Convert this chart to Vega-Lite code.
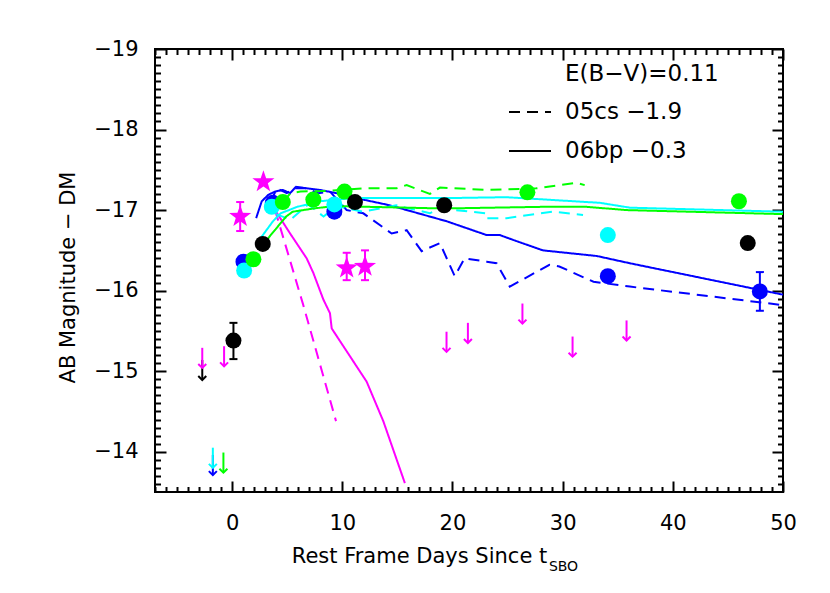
{
  "$schema": "https://vega.github.io/schema/vega-lite/v6.json",
  "width": 628,
  "height": 443,
  "autosize": {"type": "none"},
  "padding": {"left": 155, "top": 49, "right": 47, "bottom": 101},
  "background": "white",
  "config": {
    "view": {"stroke": "black", "strokeWidth": 2},
    "font": "DejaVu Sans",
    "axis": {
      "domain": false, "grid": false, "ticks": true, "tickColor": "black", "tickWidth": 2,
      "labelColor": "black", "labelFont": "DejaVu Sans", "labelFontSize": 21,
      "labelFlush": false, "labelOverlap": false,
      "titleFont": "DejaVu Sans", "titleFontSize": 21, "titleFontWeight": "normal", "titleColor": "black"
    },
    "legend": {"labelFont": "DejaVu Sans", "titleFont": "DejaVu Sans", "labelColor": "black", "titleColor": "black", "padding": 0}
  },
  "datasets": {
    "obs": [
      {"band": "g", "day": 1.03, "mag": -16.36},
      {"band": "g", "day": 3.69, "mag": -17.09},
      {"band": "g", "day": 9.28, "mag": -16.98},
      {"band": "g", "day": 34.1, "mag": -16.18},
      {"band": "g", "day": 47.9, "mag": -15.99},
      {"band": "r", "day": 1.09, "mag": -16.25},
      {"band": "r", "day": 3.6, "mag": -17.04},
      {"band": "r", "day": 9.28, "mag": -17.07},
      {"band": "r", "day": 34.1, "mag": -16.69},
      {"band": "i", "day": 1.93, "mag": -16.39},
      {"band": "i", "day": 4.6, "mag": -17.1},
      {"band": "i", "day": 7.37, "mag": -17.13},
      {"band": "i", "day": 10.2, "mag": -17.23},
      {"band": "i", "day": 26.8, "mag": -17.22},
      {"band": "i", "day": 46.0, "mag": -17.11},
      {"band": "z", "day": 0.12, "mag": -15.38},
      {"band": "z", "day": 2.78, "mag": -16.58},
      {"band": "z", "day": 11.15, "mag": -17.1},
      {"band": "z", "day": 19.25, "mag": -17.06},
      {"band": "z", "day": 46.8, "mag": -16.59}
    ],
    "uv": [
      {"band": "NUV", "day": 0.73, "mag": -16.92},
      {"band": "NUV", "day": 2.84, "mag": -17.35},
      {"band": "NUV", "day": 10.4, "mag": -16.28},
      {"band": "NUV", "day": 12.06, "mag": -16.3}
    ],
    "err": [
      {"band": "NUV", "day": 0.73, "lo": -17.1, "hi": -16.74},
      {"band": "NUV", "day": 10.4, "lo": -16.47, "hi": -16.13},
      {"band": "NUV", "day": 12.06, "lo": -16.5, "hi": -16.13},
      {"band": "z", "day": 0.12, "lo": -15.6, "hi": -15.15},
      {"band": "g", "day": 47.9, "lo": -16.23, "hi": -15.75}
    ],
    "lims": [
      {"band": "z", "day": -2.71, "mag": -15.14, "tip": -14.89},
      {"band": "NUV", "day": -2.71, "mag": -15.29, "tip": -15.04},
      {"band": "NUV", "day": -0.73, "mag": -15.31, "tip": -15.06},
      {"band": "g", "day": -1.75, "mag": -13.96, "tip": -13.71},
      {"band": "r", "day": -1.75, "mag": -14.05, "tip": -13.8},
      {"band": "i", "day": -0.79, "mag": -13.99, "tip": -13.74},
      {"band": "NUV", "day": 19.46, "mag": -15.49, "tip": -15.24},
      {"band": "NUV", "day": 21.4, "mag": -15.6, "tip": -15.35},
      {"band": "NUV", "day": 26.35, "mag": -15.84, "tip": -15.59},
      {"band": "NUV", "day": 30.9, "mag": -15.43, "tip": -15.18},
      {"band": "NUV", "day": 35.8, "mag": -15.63, "tip": -15.38}
    ],
    "models": [
      {"band": "NUV", "model": "06bp −0.3", "day": 3.9, "mag": -17.0},
      {"band": "NUV", "model": "06bp −0.3", "day": 5.26, "mag": -16.71},
      {"band": "NUV", "model": "06bp −0.3", "day": 6.77, "mag": -16.4},
      {"band": "NUV", "model": "06bp −0.3", "day": 7.37, "mag": -16.22},
      {"band": "NUV", "model": "06bp −0.3", "day": 8.28, "mag": -15.89},
      {"band": "NUV", "model": "06bp −0.3", "day": 8.88, "mag": -15.72},
      {"band": "NUV", "model": "06bp −0.3", "day": 9.04, "mag": -15.53},
      {"band": "NUV", "model": "06bp −0.3", "day": 12.21, "mag": -14.87},
      {"band": "NUV", "model": "06bp −0.3", "day": 13.72, "mag": -14.38},
      {"band": "NUV", "model": "06bp −0.3", "day": 15.68, "mag": -13.61},
      {"band": "NUV", "model": "05cs −1.9", "day": 3.9, "mag": -17.0},
      {"band": "NUV", "model": "05cs −1.9", "day": 6.46, "mag": -15.82},
      {"band": "NUV", "model": "05cs −1.9", "day": 9.43, "mag": -14.38},
      {"band": "g", "model": "06bp −0.3", "day": 2.18, "mag": -16.9},
      {"band": "g", "model": "06bp −0.3", "day": 2.69, "mag": -17.11},
      {"band": "g", "model": "06bp −0.3", "day": 3.29, "mag": -17.19},
      {"band": "g", "model": "06bp −0.3", "day": 3.9, "mag": -17.23},
      {"band": "g", "model": "06bp −0.3", "day": 4.6, "mag": -17.25},
      {"band": "g", "model": "06bp −0.3", "day": 5.26, "mag": -17.21},
      {"band": "g", "model": "06bp −0.3", "day": 5.8, "mag": -17.29},
      {"band": "g", "model": "06bp −0.3", "day": 6.77, "mag": -17.27},
      {"band": "g", "model": "06bp −0.3", "day": 7.98, "mag": -17.25},
      {"band": "g", "model": "06bp −0.3", "day": 9.49, "mag": -17.21},
      {"band": "g", "model": "06bp −0.3", "day": 11.9, "mag": -17.13},
      {"band": "g", "model": "06bp −0.3", "day": 14.3, "mag": -17.06},
      {"band": "g", "model": "06bp −0.3", "day": 19.5, "mag": -16.86},
      {"band": "g", "model": "06bp −0.3", "day": 23.1, "mag": -16.69},
      {"band": "g", "model": "06bp −0.3", "day": 24.3, "mag": -16.69},
      {"band": "g", "model": "06bp −0.3", "day": 25.5, "mag": -16.63},
      {"band": "g", "model": "06bp −0.3", "day": 28.2, "mag": -16.5},
      {"band": "g", "model": "06bp −0.3", "day": 33.1, "mag": -16.43},
      {"band": "g", "model": "06bp −0.3", "day": 36.1, "mag": -16.34},
      {"band": "g", "model": "06bp −0.3", "day": 50.0, "mag": -15.95},
      {"band": "g", "model": "05cs −1.9", "day": 3.5, "mag": -17.1},
      {"band": "g", "model": "05cs −1.9", "day": 4.05, "mag": -17.27},
      {"band": "g", "model": "05cs −1.9", "day": 4.96, "mag": -17.21},
      {"band": "g", "model": "05cs −1.9", "day": 5.6, "mag": -17.27},
      {"band": "g", "model": "05cs −1.9", "day": 6.77, "mag": -17.27},
      {"band": "g", "model": "05cs −1.9", "day": 7.82, "mag": -17.21},
      {"band": "g", "model": "05cs −1.9", "day": 8.88, "mag": -17.23},
      {"band": "g", "model": "05cs −1.9", "day": 10.4, "mag": -17.0},
      {"band": "g", "model": "05cs −1.9", "day": 11.9, "mag": -16.96},
      {"band": "g", "model": "05cs −1.9", "day": 14.48, "mag": -16.71},
      {"band": "g", "model": "05cs −1.9", "day": 15.84, "mag": -16.75},
      {"band": "g", "model": "05cs −1.9", "day": 17.2, "mag": -16.49},
      {"band": "g", "model": "05cs −1.9", "day": 18.86, "mag": -16.59},
      {"band": "g", "model": "05cs −1.9", "day": 20.2, "mag": -16.18},
      {"band": "g", "model": "05cs −1.9", "day": 21.1, "mag": -16.4},
      {"band": "g", "model": "05cs −1.9", "day": 23.1, "mag": -16.36},
      {"band": "g", "model": "05cs −1.9", "day": 24.0, "mag": -16.34},
      {"band": "g", "model": "05cs −1.9", "day": 25.2, "mag": -16.05},
      {"band": "g", "model": "05cs −1.9", "day": 28.8, "mag": -16.32},
      {"band": "g", "model": "05cs −1.9", "day": 29.7, "mag": -16.3},
      {"band": "g", "model": "05cs −1.9", "day": 32.8, "mag": -16.11},
      {"band": "g", "model": "05cs −1.9", "day": 36.1, "mag": -16.05},
      {"band": "g", "model": "05cs −1.9", "day": 50.0, "mag": -15.82},
      {"band": "r", "model": "06bp −0.3", "day": 2.2, "mag": -16.58},
      {"band": "r", "model": "06bp −0.3", "day": 3.7, "mag": -16.86},
      {"band": "r", "model": "06bp −0.3", "day": 4.4, "mag": -16.96},
      {"band": "r", "model": "06bp −0.3", "day": 5.9, "mag": -17.04},
      {"band": "r", "model": "06bp −0.3", "day": 8.0, "mag": -17.11},
      {"band": "r", "model": "06bp −0.3", "day": 11.0, "mag": -17.15},
      {"band": "r", "model": "06bp −0.3", "day": 20.0, "mag": -17.15},
      {"band": "r", "model": "06bp −0.3", "day": 24.9, "mag": -17.16},
      {"band": "r", "model": "06bp −0.3", "day": 33.4, "mag": -17.09},
      {"band": "r", "model": "06bp −0.3", "day": 36.1, "mag": -17.03},
      {"band": "r", "model": "06bp −0.3", "day": 50.0, "mag": -16.98},
      {"band": "r", "model": "05cs −1.9", "day": 4.0, "mag": -16.95},
      {"band": "r", "model": "05cs −1.9", "day": 5.3, "mag": -16.88},
      {"band": "r", "model": "05cs −1.9", "day": 6.9, "mag": -17.07},
      {"band": "r", "model": "05cs −1.9", "day": 8.3, "mag": -16.92},
      {"band": "r", "model": "05cs −1.9", "day": 9.5, "mag": -17.05},
      {"band": "r", "model": "05cs −1.9", "day": 11.9, "mag": -16.98},
      {"band": "r", "model": "05cs −1.9", "day": 14.9, "mag": -17.06},
      {"band": "r", "model": "05cs −1.9", "day": 17.95, "mag": -16.96},
      {"band": "r", "model": "05cs −1.9", "day": 18.86, "mag": -17.02},
      {"band": "r", "model": "05cs −1.9", "day": 23.09, "mag": -16.96},
      {"band": "r", "model": "05cs −1.9", "day": 23.1, "mag": -16.9},
      {"band": "r", "model": "05cs −1.9", "day": 24.9, "mag": -16.9},
      {"band": "r", "model": "05cs −1.9", "day": 29.1, "mag": -16.98},
      {"band": "r", "model": "05cs −1.9", "day": 31.85, "mag": -16.94},
      {"band": "i", "model": "06bp −0.3", "day": 2.78, "mag": -16.57},
      {"band": "i", "model": "06bp −0.3", "day": 4.9, "mag": -16.92},
      {"band": "i", "model": "06bp −0.3", "day": 5.5, "mag": -16.98},
      {"band": "i", "model": "06bp −0.3", "day": 7.4, "mag": -17.02},
      {"band": "i", "model": "06bp −0.3", "day": 9.2, "mag": -17.05},
      {"band": "i", "model": "06bp −0.3", "day": 19.2, "mag": -17.02},
      {"band": "i", "model": "06bp −0.3", "day": 28.0, "mag": -17.04},
      {"band": "i", "model": "06bp −0.3", "day": 32.2, "mag": -17.04},
      {"band": "i", "model": "06bp −0.3", "day": 35.8, "mag": -17.0},
      {"band": "i", "model": "06bp −0.3", "day": 50.0, "mag": -16.95},
      {"band": "i", "model": "05cs −1.9", "day": 4.6, "mag": -17.1},
      {"band": "i", "model": "05cs −1.9", "day": 5.3, "mag": -17.21},
      {"band": "i", "model": "05cs −1.9", "day": 6.2, "mag": -17.23},
      {"band": "i", "model": "05cs −1.9", "day": 8.9, "mag": -17.24},
      {"band": "i", "model": "05cs −1.9", "day": 11.9, "mag": -17.27},
      {"band": "i", "model": "05cs −1.9", "day": 14.9, "mag": -17.27},
      {"band": "i", "model": "05cs −1.9", "day": 15.84, "mag": -17.31},
      {"band": "i", "model": "05cs −1.9", "day": 17.95, "mag": -17.2},
      {"band": "i", "model": "05cs −1.9", "day": 18.86, "mag": -17.28},
      {"band": "i", "model": "05cs −1.9", "day": 23.09, "mag": -17.25},
      {"band": "i", "model": "05cs −1.9", "day": 27.6, "mag": -17.27},
      {"band": "i", "model": "05cs −1.9", "day": 31.25, "mag": -17.34},
      {"band": "i", "model": "05cs −1.9", "day": 32.0, "mag": -17.31}
    ]
  },
  "layer": [
    {
      "data": {"name": "models"},
      "mark": {"type": "line", "strokeWidth": 2},
      "encoding": {
        "x": {"field": "day", "type": "quantitative",
          "scale": {"domain": [-7, 50], "nice": false, "zero": false},
          "axis": {"orient": "bottom", "values": [0, 10, 20, 30, 40, 50], "format": "d", "offset": -11, "tickSize": 11, "labelPadding": 20,
            "title": "Rest Frame Days Since t", "titleX": 264, "titleY": 81, "titleBaseline": "alphabetic", "titleAlign": "center"}},
        "y": {"field": "mag", "type": "quantitative",
          "scale": {"domain": [-19, -13.5], "nice": false, "zero": false, "reverse": true},
          "axis": {"orient": "left", "values": [-19, -18, -17, -16, -15, -14], "format": "d", "offset": -11, "tickSize": 11, "labelPadding": 17,
            "title": "AB Magnitude − DM", "titleX": -92, "titleY": 228, "titleBaseline": "alphabetic", "titleAlign": "center", "titleAngle": 270}},
        "stroke": {"field": "band", "type": "nominal",
          "scale": {"domain": ["NUV", "g", "r", "i", "z"], "range": ["#ff00ff", "#0000ff", "#00ffff", "#00ff00", "#000000"]},
          "legend": null},
        "strokeDash": {"field": "model", "type": "nominal",
          "scale": {"domain": ["05cs −1.9", "06bp −0.3"], "range": [[11, 7], [1, 0]]},
          "legend": {"orient": "none", "legendX": 353, "legendY": 14, "title": "E(B−V)=0.11", "titleFontSize": 23, "titleFontWeight": "normal",
            "titlePadding": 4, "labelFontSize": 23, "symbolType": "stroke", "symbolSize": 1764, "symbolStrokeWidth": 2,
            "symbolStrokeColor": "black", "rowPadding": 5, "labelOffset": 13,
            "encode": {"title": {"update": {"dx": {"value": 57}}}, "symbols": {"update": {"stroke": {"value": "black"}}}}}}
      }
    },
    {
      "data": {"name": "lims"},
      "mark": {"type": "rule", "strokeWidth": 2},
      "encoding": {
        "x": {"field": "day", "type": "quantitative",
          "scale": {"domain": [-7, 50], "nice": false, "zero": false},
          "axis": {"orient": "bottom", "values": [-7, -6, -5, -4, -3, -2, -1, 1, 2, 3, 4, 5, 6, 7, 8, 9, 11, 12, 13, 14, 15, 16, 17, 18, 19, 21, 22, 23, 24, 25, 26, 27, 28, 29, 31, 32, 33, 34, 35, 36, 37, 38, 39, 41, 42, 43, 44, 45, 46, 47, 48, 49],
            "offset": -5.5, "tickSize": 5.5, "labels": false, "title": "SBO", "titleFontSize": 14, "titleX": 408, "titleY": 83.5, "titleBaseline": "alphabetic", "titleAlign": "center"}},
        "y": {"field": "mag", "type": "quantitative",
          "scale": {"domain": [-19, -13.5], "nice": false, "zero": false, "reverse": true},
          "axis": {"orient": "left", "values": [-18.9, -18.8, -18.7, -18.6, -18.5, -18.4, -18.3, -18.2, -18.1, -17.9, -17.8, -17.7, -17.6, -17.5, -17.4, -17.3, -17.2, -17.1, -16.9, -16.8, -16.7, -16.6, -16.5, -16.4, -16.3, -16.2, -16.1, -15.9, -15.8, -15.7, -15.6, -15.5, -15.4, -15.3, -15.2, -15.1, -14.9, -14.8, -14.7, -14.6, -14.5, -14.4, -14.3, -14.2, -14.1, -13.9, -13.8, -13.7, -13.6],
            "offset": -5.5, "tickSize": 5.5, "labels": false, "title": null}},
        "y2": {"field": "tip"},
        "stroke": {"field": "band", "type": "nominal", "legend": null}
      }
    },
    {
      "data": {"name": "lims"},
      "mark": {"type": "point", "shape": "M-1,-1L0,0L1,-1", "filled": false, "size": 64, "strokeWidth": 2, "opacity": 1},
      "encoding": {
        "x": {"field": "day", "type": "quantitative",
          "scale": {"domain": [-7, 50], "nice": false, "zero": false},
          "axis": {"orient": "top", "values": [0, 10, 20, 30, 40, 50], "offset": -11, "tickSize": 11, "labels": false, "title": null}},
        "y": {"field": "tip", "type": "quantitative",
          "scale": {"domain": [-19, -13.5], "nice": false, "zero": false, "reverse": true},
          "axis": {"orient": "right", "values": [-19, -18, -17, -16, -15, -14], "offset": -11, "tickSize": 11, "labels": false, "title": null}},
        "stroke": {"field": "band", "type": "nominal", "legend": null}
      }
    },
    {
      "data": {"name": "err"},
      "mark": {"type": "rule", "strokeWidth": 2},
      "encoding": {
        "x": {"field": "day", "type": "quantitative",
          "scale": {"domain": [-7, 50], "nice": false, "zero": false},
          "axis": {"orient": "top", "values": [-7, -6, -5, -4, -3, -2, -1, 1, 2, 3, 4, 5, 6, 7, 8, 9, 11, 12, 13, 14, 15, 16, 17, 18, 19, 21, 22, 23, 24, 25, 26, 27, 28, 29, 31, 32, 33, 34, 35, 36, 37, 38, 39, 41, 42, 43, 44, 45, 46, 47, 48, 49],
            "offset": -5.5, "tickSize": 5.5, "labels": false, "title": null}},
        "y": {"field": "lo", "type": "quantitative",
          "scale": {"domain": [-19, -13.5], "nice": false, "zero": false, "reverse": true},
          "axis": {"orient": "right", "values": [-18.9, -18.8, -18.7, -18.6, -18.5, -18.4, -18.3, -18.2, -18.1, -17.9, -17.8, -17.7, -17.6, -17.5, -17.4, -17.3, -17.2, -17.1, -16.9, -16.8, -16.7, -16.6, -16.5, -16.4, -16.3, -16.2, -16.1, -15.9, -15.8, -15.7, -15.6, -15.5, -15.4, -15.3, -15.2, -15.1, -14.9, -14.8, -14.7, -14.6, -14.5, -14.4, -14.3, -14.2, -14.1, -13.9, -13.8, -13.7, -13.6],
            "offset": -5.5, "tickSize": 5.5, "labels": false, "title": null}},
        "y2": {"field": "hi"},
        "stroke": {"field": "band", "type": "nominal", "legend": null}
      }
    },
    {
      "data": {"name": "err"},
      "mark": {"type": "point", "shape": "M-1,0L1,0", "filled": false, "size": 64, "strokeWidth": 2, "opacity": 1},
      "encoding": {
        "x": {"field": "day", "type": "quantitative", "axis": null},
        "y": {"field": "lo", "type": "quantitative", "axis": null},
        "stroke": {"field": "band", "type": "nominal", "legend": null}
      }
    },
    {
      "data": {"name": "err"},
      "mark": {"type": "point", "shape": "M-1,0L1,0", "filled": false, "size": 64, "strokeWidth": 2, "opacity": 1},
      "encoding": {
        "x": {"field": "day", "type": "quantitative", "axis": null},
        "y": {"field": "hi", "type": "quantitative", "axis": null},
        "stroke": {"field": "band", "type": "nominal", "legend": null}
      }
    },
    {
      "data": {"name": "obs"},
      "mark": {"type": "point", "filled": true, "opacity": 1, "strokeWidth": 0, "size": 256},
      "encoding": {
        "x": {"field": "day", "type": "quantitative", "axis": null},
        "y": {"field": "mag", "type": "quantitative", "axis": null},
        "color": {"field": "band", "type": "nominal",
          "scale": {"domain": ["NUV", "g", "r", "i", "z"], "range": ["#ff00ff", "#0000ff", "#00ffff", "#00ff00", "#000000"]},
          "legend": {"orient": "top-left", "offset": 18, "title": null, "labelFontSize": 23, "symbolSize": 330,
            "rowPadding": 3, "labelOffset": 8}},
        "shape": {"field": "band", "type": "nominal",
          "scale": {"domain": ["NUV", "g", "r", "i", "z"],
            "range": ["M0,-1L0.235,-0.324L0.951,-0.309L0.38,0.124L0.588,0.809L0,0.4L-0.588,0.809L-0.38,0.124L-0.951,-0.309L-0.235,-0.324Z", "circle", "circle", "circle", "circle"]},
          "legend": {"orient": "top-left", "offset": 18, "title": null, "labelFontSize": 23, "symbolSize": 330,
            "rowPadding": 3, "labelOffset": 8}}
      }
    },
    {
      "data": {"name": "uv"},
      "mark": {"type": "point", "filled": true, "opacity": 1, "strokeWidth": 0, "size": 540, "color": "#ff00ff",
        "shape": "M0,-1L0.235,-0.324L0.951,-0.309L0.38,0.124L0.588,0.809L0,0.4L-0.588,0.809L-0.38,0.124L-0.951,-0.309L-0.235,-0.324Z"},
      "encoding": {
        "x": {"field": "day", "type": "quantitative", "axis": null},
        "y": {"field": "mag", "type": "quantitative", "axis": null}
      }
    }
  ],
  "resolve": {"axis": {"x": "independent", "y": "independent"}}
}
